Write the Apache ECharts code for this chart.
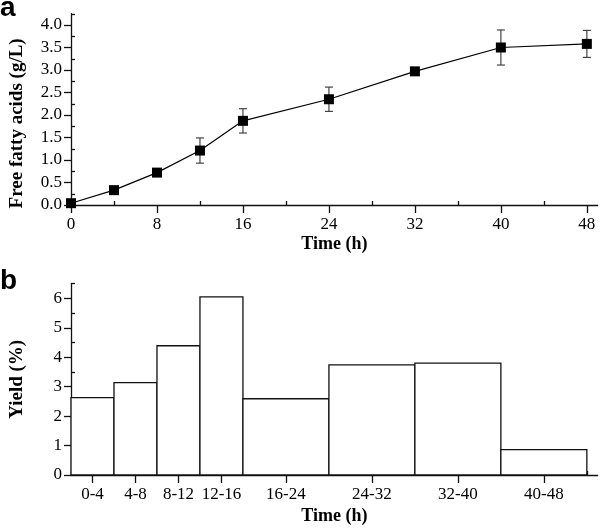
<!DOCTYPE html>
<html><head><meta charset="utf-8">
<script src="https://cdn.jsdelivr.net/npm/echarts@6/dist/echarts.min.js"></script>
<style>html,body{margin:0;padding:0;background:#fff}#c{width:600px;height:529px}</style>
</head><body><div id="c"></div>
<script>
// Panel a: free fatty acids over time
const timePoints = [0, 4, 8, 12, 16, 24, 32, 40, 48];
const ffaValues  = [0.04, 0.33, 0.72, 1.21, 1.87, 2.35, 2.97, 3.50, 3.58];
const ffaErrors  = [0, 0, 0, 0.28, 0.27, 0.27, 0, 0.39, 0.30];
// Panel b: yield per interval
const binStart    = [0, 4, 8, 12, 16, 24, 32, 40];
const binEnd      = [4, 8, 12, 16, 24, 32, 40, 48];
const binLabels   = ['0-4', '4-8', '8-12', '12-16', '16-24', '24-32', '32-40', '40-48'];
const yieldValues = [2.63, 3.14, 4.39, 6.05, 2.59, 3.74, 3.80, 0.86];
// Tick values
const topXMajor = [0, 8, 16, 24, 32, 40, 48];
const topXMinor = [4, 12, 20, 28, 36, 44];
const topYMajor = [0, 0.5, 1.0, 1.5, 2.0, 2.5, 3.0, 3.5, 4.0];
const topYMinor = [0.25, 0.75, 1.25, 1.75, 2.25, 2.75, 3.25, 3.75, 4.25];
const botXEdges = [0, 4, 8, 12, 16, 24, 32, 40, 48];
const botYMajor = [0, 1, 2, 3, 4, 5, 6];
const botYMinor = [0.5, 1.5, 2.5, 3.5, 4.5, 5.5, 6.5];

const binCenters = binStart.map((s, i) => (s + binEnd[i]) / 2);
const serif = '"Liberation Serif", "Times New Roman", serif';
const lineCol = '#111';

function axisBase(extra) {
  return Object.assign({
    type: 'value', splitLine: {show: false},
    axisLine: {show: true, onZero: false, lineStyle: {color: lineCol, width: 1.3}},
  }, extra);
}

const chart = echarts.init(document.getElementById('c'));
chart.setOption({
  animation: false,
  backgroundColor: '#fff',
  title: [
    {text: 'a', left: 0, top: -6, padding: 0, textStyle: {fontFamily: '"Liberation Sans", Arial, sans-serif', fontWeight: 'bold', fontSize: 28, color: '#000'}},
    {text: 'b', left: 0, top: 267, padding: 0, textStyle: {fontFamily: '"Liberation Sans", Arial, sans-serif', fontWeight: 'bold', fontSize: 28, color: '#000'}}
  ],
  grid: [
    {left: 62, top: 13.75, width: 535.6, height: 191.25},
    {left: 62, top: 283.6, width: 535.6, height: 191.4}
  ],
  xAxis: [
    axisBase({gridIndex: 0, min: 0, max: 49,
      name: 'Time (h)', nameLocation: 'middle', nameGap: 30,
      nameTextStyle: {fontFamily: serif, fontWeight: 'bold', fontSize: 18, color: '#000'},
      axisTick: {show: true, customValues: topXMajor, length: 8, lineStyle: {color: lineCol, width: 1.3}},
      axisLabel: {customValues: topXMajor, margin: 11, fontFamily: serif, fontSize: 17, color: '#000'}}),
    axisBase({gridIndex: 0, min: 0, max: 49, axisLine: {show: false},
      axisTick: {show: true, customValues: topXMinor, length: 4, lineStyle: {color: lineCol, width: 1.3}},
      axisLabel: {show: false}}),
    axisBase({gridIndex: 1, min: 0, max: 49,
      name: 'Time (h)', nameLocation: 'middle', nameGap: 32,
      nameTextStyle: {fontFamily: serif, fontWeight: 'bold', fontSize: 18, color: '#000'},
      axisTick: {show: true, customValues: binCenters, length: 8, lineStyle: {color: lineCol, width: 1.3}},
      axisLabel: {customValues: binCenters, margin: 11, fontFamily: serif, fontSize: 17, color: '#000',
        formatter: v => binLabels[binCenters.indexOf(v)]}}),
    axisBase({gridIndex: 1, min: 0, max: 49, axisLine: {show: false},
      axisTick: {show: true, customValues: botXEdges, length: 4, lineStyle: {color: lineCol, width: 1.3}},
      axisLabel: {show: false}})
  ],
  yAxis: [
    axisBase({gridIndex: 0, min: 0, max: 4.25,
      name: 'Free fatty acids (g/L)', nameLocation: 'middle', nameGap: 44,
      nameTextStyle: {fontFamily: serif, fontWeight: 'bold', fontSize: 19, color: '#000', padding: [0, 28, 0, 0]},
      axisTick: {show: true, customValues: topYMajor, length: 7, lineStyle: {color: lineCol, width: 1.3}},
      axisLabel: {customValues: topYMajor, margin: 9, fontFamily: serif, fontSize: 17, color: '#000',
        formatter: v => v.toFixed(1)}}),
    axisBase({gridIndex: 0, min: 0, max: 4.25, axisLine: {show: false},
      axisTick: {show: true, customValues: topYMinor, length: 4, lineStyle: {color: lineCol, width: 1.3}},
      axisLabel: {show: false}}),
    axisBase({gridIndex: 1, min: 0, max: 6.5,
      name: 'Yield (%)', nameLocation: 'middle', nameGap: 44,
      nameTextStyle: {fontFamily: serif, fontWeight: 'bold', fontSize: 19, color: '#000'},
      axisTick: {show: true, customValues: botYMajor, length: 7, lineStyle: {color: lineCol, width: 1.3}},
      axisLabel: {customValues: botYMajor, margin: 9, fontFamily: serif, fontSize: 17, color: '#000'}}),
    axisBase({gridIndex: 1, min: 0, max: 6.5, axisLine: {show: false},
      axisTick: {show: true, customValues: botYMinor, length: 4, lineStyle: {color: lineCol, width: 1.3}},
      axisLabel: {show: false}})
  ],
  series: [
    {
      type: 'custom', xAxisIndex: 0, yAxisIndex: 0, z: 2,
      data: timePoints.map((t, i) => [t, ffaValues[i], ffaErrors[i]]),
      encode: {x: 0, y: 1},
      renderItem: function (params, api) {
        const x = api.value(0), y = api.value(1), e = api.value(2);
        if (!e) return null;
        const top = api.coord([x, y + e]);
        const bot = api.coord([x, y - e]);
        const hw = 4;
        const st = {stroke: '#444', lineWidth: 1.2};
        return {type: 'group', children: [
          {type: 'line', shape: {x1: top[0], y1: top[1], x2: bot[0], y2: bot[1]}, style: st},
          {type: 'line', shape: {x1: top[0] - hw, y1: top[1], x2: top[0] + hw, y2: top[1]}, style: st},
          {type: 'line', shape: {x1: bot[0] - hw, y1: bot[1], x2: bot[0] + hw, y2: bot[1]}, style: st}
        ]};
      }
    },
    {
      type: 'line', xAxisIndex: 0, yAxisIndex: 0, z: 3,
      data: timePoints.map((t, i) => [t, ffaValues[i]]),
      symbol: 'rect', symbolSize: 10,
      itemStyle: {color: '#000'},
      lineStyle: {color: '#000', width: 1.2}
    },
    {
      type: 'custom', xAxisIndex: 2, yAxisIndex: 2, z: 2,
      data: binStart.map((s, i) => [s, binEnd[i], yieldValues[i]]),
      encode: {x: [0, 1], y: 2},
      renderItem: function (params, api) {
        const p0 = api.coord([api.value(0), 0]);
        const p1 = api.coord([api.value(1), api.value(2)]);
        return {type: 'rect',
          shape: {x: p0[0], y: p1[1], width: p1[0] - p0[0], height: p0[1] - p1[1]},
          style: {fill: '#fff', stroke: '#111', lineWidth: 1.3}};
      }
    }
  ]
});
</script>
</body></html>
